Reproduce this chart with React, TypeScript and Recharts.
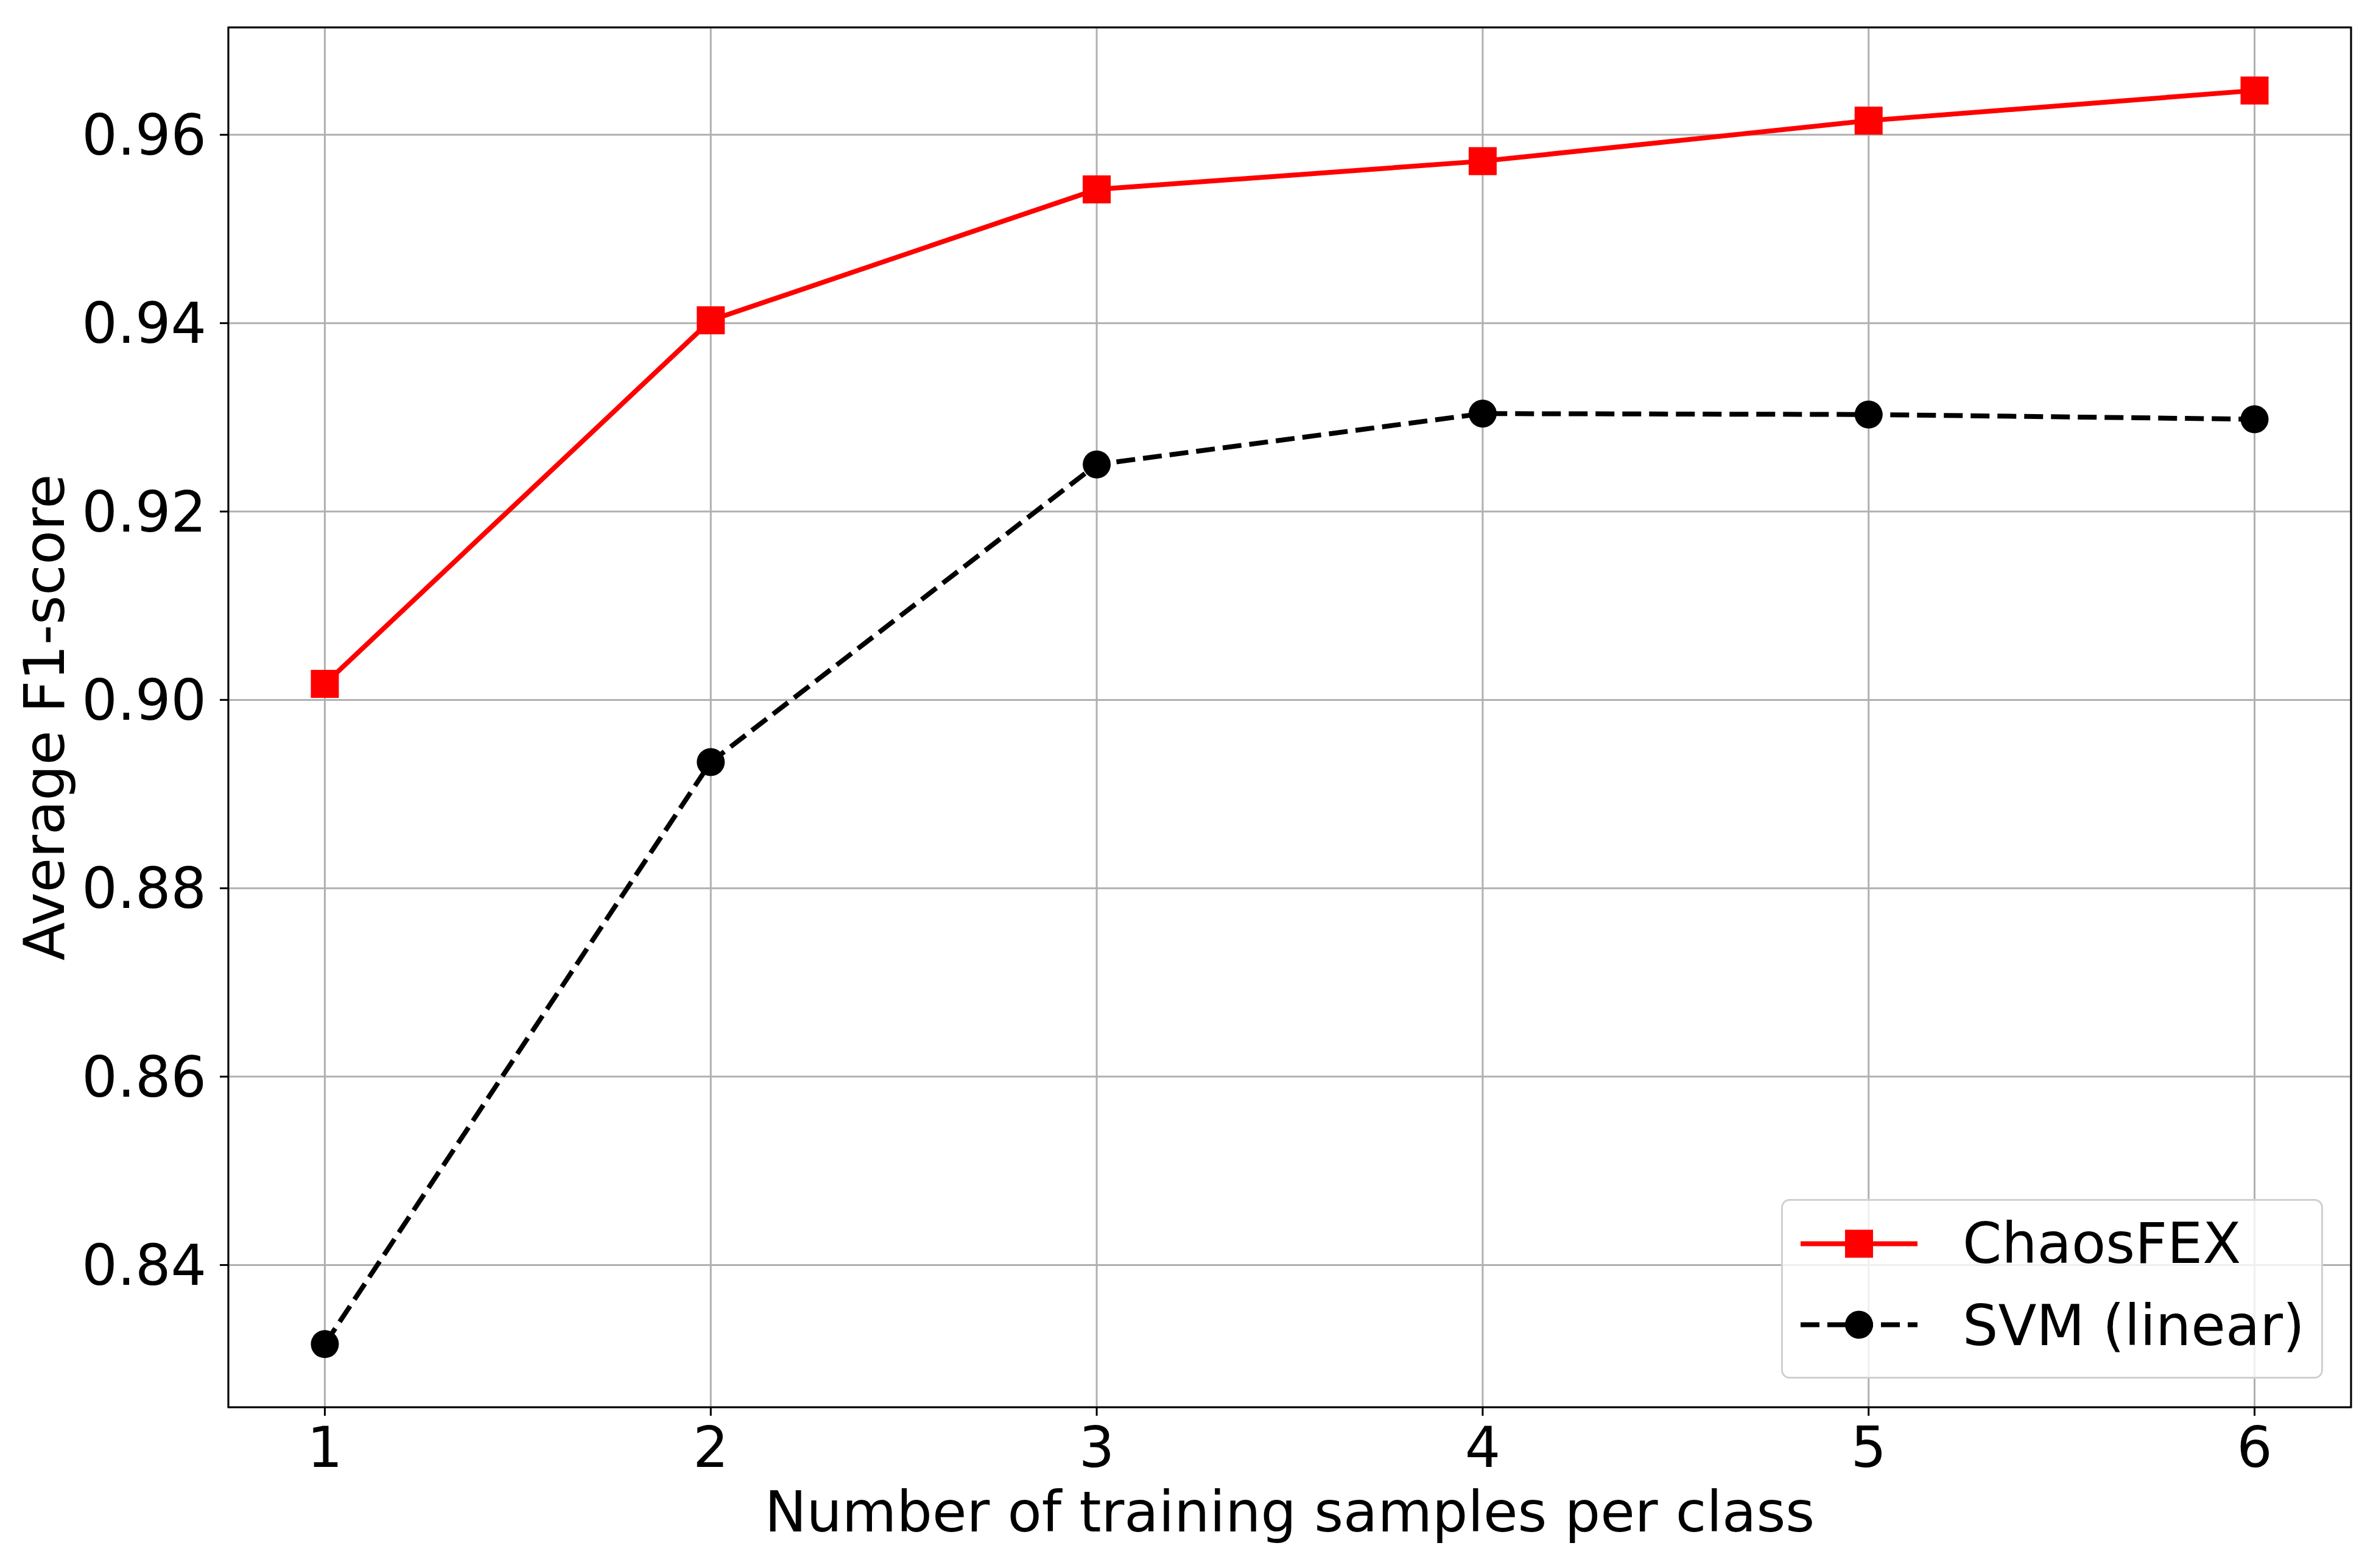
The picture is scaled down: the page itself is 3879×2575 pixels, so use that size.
import React from 'react';
import {
  LineChart, Line, XAxis, YAxis, CartesianGrid, Legend, Label, ReferenceArea,
} from 'recharts';

const SAMPLES = [1, 2, 3, 4, 5, 6];
const CHAOSFEX = [0.9017, 0.9403, 0.9542, 0.9572, 0.9615, 0.9647];
const SVM_LINEAR = [0.8316, 0.8934, 0.925, 0.9304, 0.9303, 0.9298];
const Y_TICKS = [0.84, 0.86, 0.88, 0.9, 0.92, 0.94, 0.96];
const X_TICKS = [1, 2, 3, 4, 5, 6];

const W = 3879;
const H = 2575;
const X_DOMAIN: [number, number] = [0.75, 6.25];
const Y_DOMAIN: [number, number] = [0.8249, 0.9714];
const FONT = '"DejaVu Sans", sans-serif';
const FS = 92;
const RED = '#ff0000';
const GRID = '#b0b0b0';

const data = SAMPLES.map((n, i) => ({ n, chaos: CHAOSFEX[i], svm: SVM_LINEAR[i] }));

const SquareDot = (p: any) => {
  if (p.cx == null || p.cy == null) return null;
  return <rect key={`sq-${p.index}`} x={p.cx - 23} y={p.cy - 23} width={46} height={46} fill={RED} />;
};

const CircleDot = (p: any) => {
  if (p.cx == null || p.cy == null) return null;
  return <circle key={`ci-${p.index}`} cx={p.cx} cy={p.cy} r={23} fill="#000" />;
};

const LegendBox = () => (
  <div
    style={{
      width: 890, height: 295, boxSizing: 'border-box',
      border: '3px solid #d0d0d0', borderRadius: 14, background: 'rgba(255,255,255,0.8)',
    }}
  >
    <svg width={884} height={289} style={{ display: 'block' }}>
      <line x1={29} x2={221} y1={70.5} y2={70.5} stroke={RED} strokeWidth={8} />
      <rect x={102} y={47.5} width={46} height={46} fill={RED} />
      <text x={295} y={102} fontFamily={FONT} fontSize={FS} fill="#000">ChaosFEX</text>
      <line x1={29} x2={221} y1={203.5} y2={203.5} stroke="#000" strokeWidth={8} strokeDasharray="31 13" />
      <circle cx={125} cy={203.5} r={23} fill="#000" />
      <text x={295} y={237} fontFamily={FONT} fontSize={FS} fill="#000">SVM (linear)</text>
    </svg>
  </div>
);

const YLabel = (props: any) => {
  const vb = props.viewBox || {};
  const cy = (vb.y ?? 45) + (vb.height ?? 2266) / 2;
  return (
    <text
      x={105} y={cy} transform={`rotate(-90, 105, ${cy})`}
      textAnchor="middle" fontFamily={FONT} fontSize={FS} fill="#000"
    >
      Average F1-score
    </text>
  );
};

const XLabel = (props: any) => {
  const vb = props.viewBox || {};
  const cx = (vb.x ?? 375) + (vb.width ?? 3486) / 2;
  return (
    <text x={cx} y={2515} textAnchor="middle" fontFamily={FONT} fontSize={FS} fill="#000">
      Number of training samples per class
    </text>
  );
};

export default function App() {
  return (
    <div style={{ position: 'absolute', left: 0, top: 0, width: W, height: H, background: '#fff' }}>
      <LineChart width={W} height={H} data={data} margin={{ top: 45, right: 18, bottom: 0, left: 0 }}>
        <CartesianGrid stroke={GRID} strokeWidth={3} />
        <XAxis
          dataKey="n" type="number" domain={X_DOMAIN} ticks={X_TICKS} allowDataOverflow
          height={264} axisLine={false} tickSize={14} tickMargin={19} interval={0}
          tickLine={{ stroke: '#000', strokeWidth: 3 }}
          tick={{ fill: '#000', fontSize: FS, fontFamily: FONT }}
        >
          <Label content={<XLabel />} />
        </XAxis>
        <YAxis
          type="number" domain={Y_DOMAIN} ticks={Y_TICKS} allowDataOverflow
          width={375} axisLine={false} tickSize={14} tickMargin={22} interval={0}
          tickFormatter={(v: number) => v.toFixed(2)}
          tickLine={{ stroke: '#000', strokeWidth: 3 }}
          tick={{ fill: '#000', fontSize: FS, fontFamily: FONT }}
        >
          <Label content={<YLabel />} />
        </YAxis>
        <ReferenceArea
          x1={X_DOMAIN[0]} x2={X_DOMAIN[1]} y1={Y_DOMAIN[0]} y2={Y_DOMAIN[1]}
          fill="none" stroke="#000" strokeWidth={3} ifOverflow="visible"
        />
        <Line
          dataKey="chaos" name="ChaosFEX" stroke={RED} strokeWidth={8}
          dot={SquareDot} activeDot={false} isAnimationActive={false}
        />
        <Line
          dataKey="svm" name="SVM (linear)" stroke="#000" strokeWidth={8} strokeDasharray="31 13"
          dot={CircleDot} activeDot={false} isAnimationActive={false}
        />
        <Legend
          layout="vertical" align="center" verticalAlign="middle"
          wrapperStyle={{ position: 'absolute', left: 2925, top: 1969, width: 890, height: 295 }}
          content={() => <LegendBox />}
        />
      </LineChart>
    </div>
  );
}
